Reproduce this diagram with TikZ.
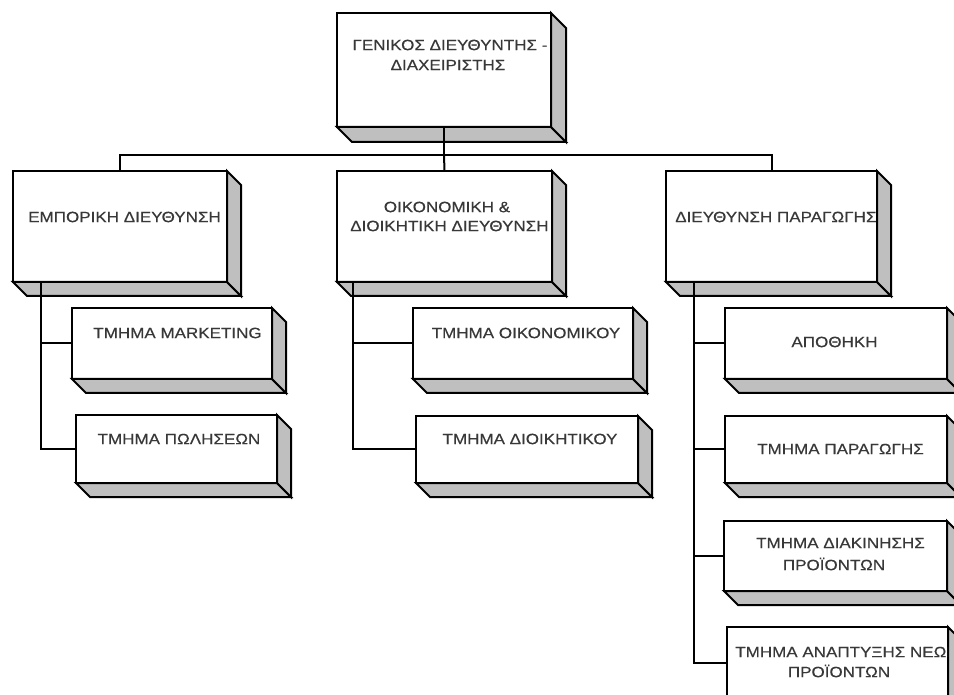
\documentclass[tikz,border=0pt]{standalone}
\usepackage{fontspec}
\newfontfamily\orgfont[FakeStretch=1.14, FakeBold=0.4]{Liberation Sans}
\tikzset{
  orgbox/.style={draw=black, line width=1.5pt, fill=white, inner sep=0pt, outer sep=0pt, anchor=north west},
  orgface/.style={draw=black, line width=1.5pt, fill=black!25, line join=miter},
  orgtxt/.style={font=\orgfont\fontsize{11.2}{13}\selectfont, text=black!78, inner sep=0pt},
  orgline/.style={draw=black, line width=1.5pt, line join=miter}
}
% name, x1, y1, x2, y2, depth (pixels)
\newcommand\orgnode[6]{%
  \node[orgbox, minimum width={(#4-#2)*0.75pt}, minimum height={(#5-#3)*0.75pt}] (#1) at (#2,#3) {};
  \filldraw[orgface] (#1.south west) -- ++(#6,#6) -- ++({#4-#2},0) -- (#1.south east) -- cycle;
  \filldraw[orgface] (#1.north east) -- ++(#6,#6) -- ++(0,{#5-#3}) -- (#1.south east) -- cycle;
}
\begin{document}
\begin{tikzpicture}[x=0.75pt, y=-0.75pt]
\useasboundingbox (0,0) rectangle (954,695);
\clip (0,0) rectangle (954,695);
\fill[white] (0,0) rectangle (954,695);

% boxes
\orgnode{top}{337}{13}{551}{127}{15}
\orgnode{left}{13}{171}{227}{282}{14}
\orgnode{mid}{337}{171}{552}{282}{14}
\orgnode{right}{666}{171}{877}{282}{14}
\orgnode{mkt}{72}{308}{272}{379}{14}
\orgnode{pol}{76}{415}{277}{483}{14}
\orgnode{oik}{413}{308}{633}{379}{14}
\orgnode{dioik}{416}{416}{638}{483}{14}
\orgnode{apo}{725}{308}{947}{379}{14}
\orgnode{par}{725}{416}{947}{483}{14}
\orgnode{diak}{724}{521}{947}{591}{14}
\orgnode{anapt}{727}{627}{948}{699}{14}

% texts
\node[orgtxt] (topA) at (450,45) {ΓΕΝΙΚΟΣ ΔΙΕΥΘΥΝΤΗΣ -};
\node[orgtxt] (topB) at (448,65) {ΔΙΑΧΕΙΡΙΣΤΗΣ};
\node[orgtxt] (leftA) at (124.5,217) {ΕΜΠΟΡΙΚΗ ΔΙΕΥΘΥΝΣΗ};
\node[orgtxt] (midA) at (447,207) {ΟΙΚΟΝΟΜΙΚΗ \&};
\begin{scope}
  \clip (mid.south west) rectangle (mid.north east);
  \node[orgtxt, anchor=west] (midB) at (350,226) {ΔΙΟΙΚΗΤΙΚΗ ΔΙΕΥΘΥΝΣΗ};
\end{scope}
\begin{scope}
  \clip (right.south west) rectangle (right.north east);
  \node[orgtxt, anchor=west] (rightA) at (675,217) {ΔΙΕΥΘΥΝΣΗ ΠΑΡΑΓΩΓΗΣ};
\end{scope}
\node[orgtxt] (mktA) at (177.5,333) {ΤΜΗΜΑ MARKETING};
\node[orgtxt] (polA) at (179,439) {ΤΜΗΜΑ ΠΩΛΗΣΕΩΝ};
\node[orgtxt] (oikA) at (526,333) {ΤΜΗΜΑ ΟΙΚΟΝΟΜΙΚΟΥ};
\node[orgtxt] (dioikA) at (530,439) {ΤΜΗΜΑ ΔΙΟΙΚΗΤΙΚΟΥ};
\node[orgtxt] (apoA) at (834.5,342) {ΑΠΟΘΗΚΗ};
\node[orgtxt] (parA) at (840.5,449) {ΤΜΗΜΑ ΠΑΡΑΓΩΓΗΣ};
\node[orgtxt] (diakA) at (840.5,543) {ΤΜΗΜΑ ΔΙΑΚΙΝΗΣΗΣ};
\node[orgtxt] (diakB) at (834,564) {ΠΡΟΪΟΝΤΩΝ};
\begin{scope}
  \clip (anapt.south west) rectangle (anapt.north east);
  \node[orgtxt, anchor=west] (anaptA) at (735,652) {ΤΜΗΜΑ ΑΝΑΠΤΥΞΗΣ ΝΕΩΝ};
\end{scope}
\node[orgtxt] (anaptB) at (839,671) {ΠΡΟΪΟΝΤΩΝ};

% connectors
\draw[orgline] (top.south) -- ++(0,28) coordinate (bus);
\draw[orgline] (left.north) |- (bus) -| (right.north);
\draw[orgline] (bus) -- (mid.north);
\draw[orgline] ([xshift=21pt]left.south west) |- (mkt.west);
\draw[orgline] ([xshift=21pt]left.south west) |- (pol.west);
\draw[orgline] ([xshift=12pt]mid.south west) |- (oik.west);
\draw[orgline] ([xshift=12pt]mid.south west) |- (dioik.west);
\draw[orgline] ([xshift=21pt]right.south west) |- (apo.west);
\draw[orgline] ([xshift=21pt]right.south west) |- (par.west);
\draw[orgline] ([xshift=21pt]right.south west) |- (diak.west);
\draw[orgline] ([xshift=21pt]right.south west) |- (anapt.west);
\end{tikzpicture}
\end{document}
